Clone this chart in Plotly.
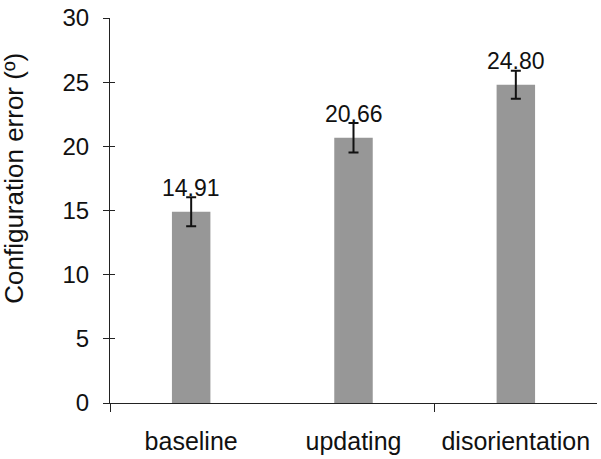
import plotly.graph_objects as go

categories = ["baseline", "updating", "disorientation"]
values = [14.91, 20.66, 24.80]
errors = [1.13, 1.15, 1.09]
value_labels = ["14.91", "20.66", "24.80"]
y_ticks = [0, 5, 10, 15, 20, 25, 30]

FONT = "Liberation Sans, Arial, sans-serif"
xs = list(range(len(categories)))

fig = go.Figure()
fig.add_trace(go.Bar(
    x=xs, y=values, width=0.237,
    marker=dict(color="#979797", line=dict(width=0)),
    error_y=dict(type="data", array=errors, visible=True, color="#111111",
                 thickness=2, width=5),
    hoverinfo="skip",
))
# invisible trace to anchor the mirror y-axis (inner tick marks)
fig.add_trace(go.Scatter(x=xs, y=values, mode="markers", marker=dict(opacity=0),
                         yaxis="y2", hoverinfo="skip", showlegend=False))

for x, v, lab in zip(xs, values, value_labels):
    fig.add_annotation(x=x, y=v, text=lab, showarrow=False, xanchor="center",
                       yanchor="bottom", yshift=9,
                       font=dict(family=FONT, size=23, color="#111111"))

fig.add_annotation(xref="paper", yref="paper", x=-110/487, y=(404-178)/388,
                   xanchor="left", yanchor="middle", textangle=-90, xshift=-3,
                   text="Configuration error (º)", showarrow=False,
                   font=dict(family=FONT, size=26, color="#111111"))

fig.update_layout(
    width=601, height=459,
    margin=dict(l=110, r=4, t=16, b=55),
    paper_bgcolor="white", plot_bgcolor="white",
    showlegend=False,
    xaxis=dict(range=[-0.5, 2.5], tickmode="array", tickvals=xs, ticktext=categories,
               ticks="", showgrid=False, zeroline=False,
               showline=True, linecolor="#222222", linewidth=1,
               tickfont=dict(family=FONT, size=25, color="#111111"),
               ticklabelstandoff=16,
               minor=dict(tickmode="array", tickvals=[-0.5, 1.5], ticks="outside",
                          ticklen=8, tickcolor="#222222", tickwidth=1)),
    yaxis=dict(range=[0, 30], tickmode="array", tickvals=y_ticks,
               ticks="outside", ticklen=6, tickcolor="#222222", tickwidth=1,
               showgrid=False, zeroline=False,
               showline=True, linecolor="#222222", linewidth=1,
               tickfont=dict(family=FONT, size=24, color="#111111"),
               ticklabelstandoff=9),
    yaxis2=dict(range=[0, 30], overlaying="y", side="left", anchor="x",
                tickmode="array", tickvals=y_ticks, ticks="inside", ticklen=5,
                tickcolor="#222222", tickwidth=1, showticklabels=False,
                showgrid=False, zeroline=False, showline=False),
)

fig.write_html("out.html", config={"displayModeBar": False},
               post_script="document.body.style.margin='0';")
